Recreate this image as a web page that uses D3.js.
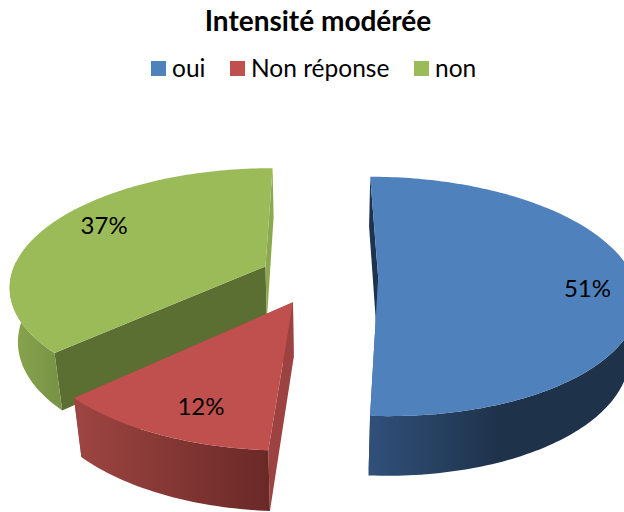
<!DOCTYPE html>
<html><head><meta charset="utf-8">
<script src="https://cdn.jsdelivr.net/npm/d3@7"></script>
<style>html,body{margin:0;padding:0;background:#fff}svg{display:block}text{font-family:Lato,"Open Sans",sans-serif;fill:#000}</style>
</head><body><svg id="c" width="624" height="512"></svg>
<script>
const title = "Intensité modérée";
const categories = ["oui", "Non réponse", "non"];
const values = [51, 12, 37];
const topColors = ["#4F81BD", "#C0504D", "#9BBB59"];
const startWallColors = ["#1E3350", "#9C4341", "#5C6F33"];
const endWallColors = ["#2C4A72", "#9C4341", "#8DA94F"];
const outerLeftColors = ["#30507A", "#9E4542", "#8AA64F"];
const outerRightColors = ["#1E3249", "#6A2927", "#7A9446"];
const labelRadii = [0.81, 0.80, 0.79];
const labelTurnDeg = [4.6, -3.5, 5.5];
const drawOrder = [2, 0, 1];

// Perspective camera for the exploded pie
const cx = 319, R = 255, horizon = -475, camH = 752, wallH = 76;
const persp = 0.155, depthShrink = 0.027, explode = 0.232;

function project(u, v, z) {
  const w = 1 / (1 - persp * v + depthShrink * z);
  return [cx + R * u * w, horizon + (camH + wallH * z) * w];
}

const svg = d3.select("#c");
const defs = svg.append("defs");
const arcs = d3.pie().sort(null)(values);
const line = d3.line();

function ptFn(d) {
  const mid = (d.startAngle + d.endAngle) / 2;
  const ou = explode * Math.sin(mid), ov = -explode * Math.cos(mid);
  return (a, r, z) => project(ou + r * Math.sin(a), ov - r * Math.cos(a), z);
}
function arcAngles(d) {
  const n = Math.ceil((d.endAngle - d.startAngle) / 0.02);
  return d3.range(n + 1).map(i => d.startAngle + (d.endAngle - d.startAngle) * i / n);
}

drawOrder.forEach(i => {
  const d = arcs[i], p = ptFn(d), angles = arcAngles(d);
  const g = svg.append("g");
  // radial side walls
  [[d.startAngle, startWallColors[i]], [d.endAngle, endWallColors[i]]].forEach(([a, col]) => {
    g.append("path")
      .attr("d", line([p(a, 0, 0), p(a, 1, 0), p(a, 1, 1), p(a, 0, 1)]) + "Z")
      .attr("fill", col);
  });
  // outer curved wall, front part only
  const front = angles.filter(a => Math.cos(a) < 0.05);
  const topEdge = front.map(a => p(a, 1, 0)), botEdge = front.map(a => p(a, 1, 1)).reverse();
  const xs = topEdge.map(q => q[0]);
  const gid = "wall" + i;
  const lg = defs.append("linearGradient").attr("id", gid)
    .attr("gradientUnits", "userSpaceOnUse")
    .attr("x1", d3.min(xs)).attr("x2", i === 0 ? d3.min(xs) + 130 : d3.max(xs)).attr("y1", 0).attr("y2", 0);
  lg.append("stop").attr("offset", 0).attr("stop-color", outerLeftColors[i]);
  lg.append("stop").attr("offset", 1).attr("stop-color", outerRightColors[i]);
  g.append("path").attr("d", line(topEdge.concat(botEdge)) + "Z").attr("fill", `url(#${gid})`);
  // top face
  const poly = [p(0, 0, 0)].concat(angles.map(a => p(a, 1, 0)));
  g.append("path").attr("d", line(poly) + "Z").attr("fill", topColors[i]);
});

// data labels
arcs.forEach((d, i) => {
  const mid = (d.startAngle + d.endAngle) / 2 + labelTurnDeg[i] * Math.PI / 180;
  const q = ptFn(d)(mid, labelRadii[i], 0);
  svg.append("text").attr("x", q[0]).attr("y", q[1] + 8)
    .attr("text-anchor", "middle").attr("font-size", 24)
    .text(d3.format(".0%")(d.value / d3.sum(values)));
});

// title
svg.append("text").attr("x", 318).attr("y", 31).attr("text-anchor", "middle")
  .attr("font-size", 28).attr("font-weight", 700).text(title);

// legend
const legendX = d3.scaleOrdinal().domain(categories).range([151, 230, 414]);
categories.forEach((c, i) => {
  const x = legendX(c);
  svg.append("rect").attr("x", x).attr("y", 61).attr("width", 15).attr("height", 15).attr("fill", topColors[i]);
  svg.append("text").attr("x", x + 21).attr("y", 77).attr("font-size", 24.5).text(c);
});
</script></body></html>
